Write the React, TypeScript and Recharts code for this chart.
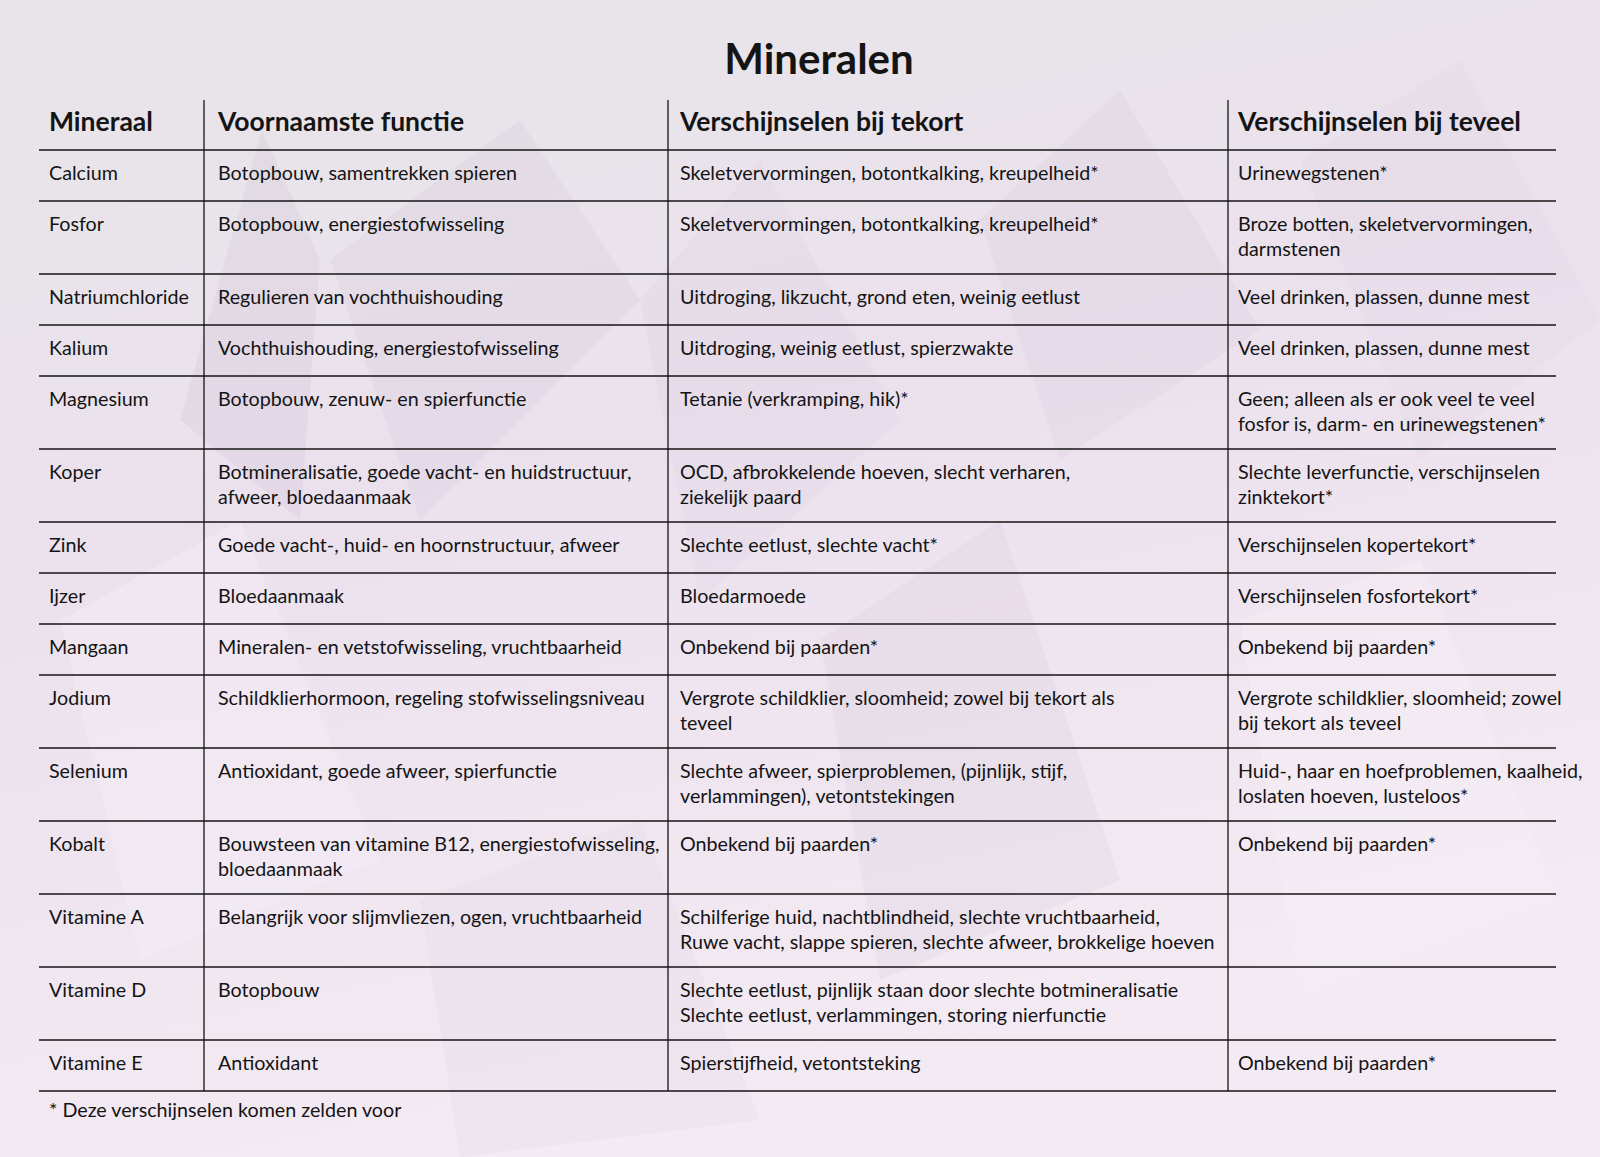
import React from 'react';
import { ScatterChart, Scatter, XAxis, YAxis, ReferenceLine } from 'recharts';

const TITLE = 'Mineralen';
const FOOTNOTE = '* Deze verschijnselen komen zelden voor';

const HEADERS = ['Mineraal', 'Voornaamste functie', 'Verschijnselen bij tekort', 'Verschijnselen bij teveel'];

const MINERALS = [
  'Calcium', 'Fosfor', 'Natriumchloride', 'Kalium', 'Magnesium', 'Koper', 'Zink', 'Ijzer',
  'Mangaan', 'Jodium', 'Selenium', 'Kobalt', 'Vitamine A', 'Vitamine D', 'Vitamine E',
];

const FUNCTIONS = [
  'Botopbouw, samentrekken spieren',
  'Botopbouw, energiestofwisseling',
  'Regulieren van vochthuishouding',
  'Vochthuishouding, energiestofwisseling',
  'Botopbouw, zenuw- en spierfunctie',
  'Botmineralisatie, goede vacht- en huidstructuur,\nafweer, bloedaanmaak',
  'Goede vacht-, huid- en hoornstructuur, afweer',
  'Bloedaanmaak',
  'Mineralen- en vetstofwisseling, vruchtbaarheid',
  'Schildklierhormoon, regeling stofwisselingsniveau',
  'Antioxidant, goede afweer, spierfunctie',
  'Bouwsteen van vitamine B12, energiestofwisseling,\nbloedaanmaak',
  'Belangrijk voor slijmvliezen, ogen, vruchtbaarheid',
  'Botopbouw',
  'Antioxidant',
];

const SHORTAGE = [
  'Skeletvervormingen, botontkalking, kreupelheid*',
  'Skeletvervormingen, botontkalking, kreupelheid*',
  'Uitdroging, likzucht, grond eten, weinig eetlust',
  'Uitdroging, weinig eetlust, spierzwakte',
  'Tetanie (verkramping, hik)*',
  'OCD, afbrokkelende hoeven, slecht verharen,\nziekelijk paard',
  'Slechte eetlust, slechte vacht*',
  'Bloedarmoede',
  'Onbekend bij paarden*',
  'Vergrote schildklier, sloomheid; zowel bij tekort als\nteveel',
  'Slechte afweer, spierproblemen, (pijnlijk, stijf,\nverlammingen), vetontstekingen',
  'Onbekend bij paarden*',
  'Schilferige huid, nachtblindheid, slechte vruchtbaarheid,\nRuwe vacht, slappe spieren, slechte afweer, brokkelige hoeven',
  'Slechte eetlust, pijnlijk staan door slechte botmineralisatie\nSlechte eetlust, verlammingen, storing nierfunctie',
  'Spierstijfheid, vetontsteking',
];

const EXCESS = [
  'Urinewegstenen*',
  'Broze botten, skeletvervormingen,\ndarmstenen',
  'Veel drinken, plassen, dunne mest',
  'Veel drinken, plassen, dunne mest',
  'Geen; alleen als er ook veel te veel\nfosfor is, darm- en urinewegstenen*',
  'Slechte leverfunctie, verschijnselen\nzinktekort*',
  'Verschijnselen kopertekort*',
  'Verschijnselen fosfortekort*',
  'Onbekend bij paarden*',
  'Vergrote schildklier, sloomheid; zowel\nbij tekort als teveel',
  'Huid-, haar en hoefproblemen, kaalheid,\nloslaten hoeven, lusteloos*',
  'Onbekend bij paarden*',
  '',
  '',
  'Onbekend bij paarden*',
];

// layout
const W = 1600;
const H = 1157;
const LEFT = 39;
const RIGHT = 1556;
const TOP = 100;
const TABLE_W = RIGHT - LEFT;
const COL_EDGES = [0, 165, 629, 1189];
const COL_PAD = [10, 14, 12, 10];
const HEADER_H = 50;
const ROW_BASE = 29;
const ROW_PER_LINE = 22;
const FIRST_LINE = 22.5;
const LINE_H = 25;
const FONT = 'Lato, "Open Sans", sans-serif';
const INK = '#141414';

const rowTops: number[] = [];
const rowBottoms: number[] = [];
let acc = HEADER_H;
MINERALS.forEach((_, i) => {
  const n = Math.max(
    ...[MINERALS[i], FUNCTIONS[i], SHORTAGE[i], EXCESS[i]].map((c) => c.split('\n').length)
  );
  rowTops.push(acc);
  acc += ROW_BASE + ROW_PER_LINE * n;
  rowBottoms.push(acc);
});
const TABLE_H = acc;

type CellDatum = { x: number; y: number; col: number; lines: string[]; head: boolean };

const cells: CellDatum[] = [];
HEADERS.forEach((h, c) => cells.push({ x: COL_EDGES[c], y: HEADER_H / 2, col: c, lines: [h], head: true }));
MINERALS.forEach((m, i) => {
  [m, FUNCTIONS[i], SHORTAGE[i], EXCESS[i]].forEach((t, c) => {
    if (t) cells.push({ x: COL_EDGES[c], y: rowTops[i], col: c, lines: t.split('\n'), head: false });
  });
});

const CellText = (props: any) => {
  const { cx, cy, payload } = props;
  const d = payload as CellDatum;
  const tx = cx + COL_PAD[d.col];
  if (d.head) {
    return (
      <text x={tx} y={cy - 4} dominantBaseline="central" fontFamily={FONT} fontWeight={700} fontSize={26.5} fill={INK}>
        {d.lines[0]}
      </text>
    );
  }
  return (
    <g>
      {d.lines.map((l, i) => (
        <text
          key={i}
          x={tx}
          y={cy + FIRST_LINE + i * LINE_H}
          dominantBaseline="central"
          fontFamily={FONT}
          fontSize={19.7}
          fill={INK}
        >
          {l}
        </text>
      ))}
    </g>
  );
};

const Backdrop = () => (
  <svg width={W} height={H} style={{ position: 'absolute', left: 0, top: 0 }}>
    <defs>
      <linearGradient id="bg" x1="0" y1="0" x2="0.3" y2="1">
        <stop offset="0" stopColor="#e7e5e8" />
        <stop offset="0.45" stopColor="#ebe1ed" />
        <stop offset="1" stopColor="#f3eaf3" />
      </linearGradient>
    </defs>
    <rect width={W} height={H} fill="url(#bg)" />
    <polygon points="180,420 262,130 320,260 300,520" fill="#b79fbc" opacity={0.12} />
    <polygon points="330,260 520,120 640,300 420,520" fill="#9d7fa3" opacity={0.07} />
    <polygon points="640,300 760,160 900,420 700,600" fill="#c4a9c8" opacity={0.08} />
    <polygon points="980,220 1120,90 1260,330 1060,460" fill="#a98cae" opacity={0.07} />
    <polygon points="1300,160 1460,60 1600,320 1420,460" fill="#c7b0cb" opacity={0.08} />
    <polygon points="60,620 240,520 380,860 140,960" fill="#f4ecf5" opacity={0.5} />
    <polygon points="820,640 1000,520 1120,880 880,980" fill="#8f6f96" opacity={0.06} />
    <polygon points="1240,620 1420,560 1560,900 1300,1000" fill="#f5eef6" opacity={0.5} />
    <polygon points="420,900 640,820 760,1120 460,1157" fill="#d8c3da" opacity={0.12} />
  </svg>
);

export default function App() {
  return (
    <div style={{ position: 'relative', width: W, height: H, overflow: 'hidden', fontFamily: FONT }}>
      <style>{'body{margin:0}'}</style>
      <Backdrop />
      <div style={{ position: 'absolute', left: 0, top: 0, width: W, height: H }}>
        <ScatterChart
          width={W}
          height={H}
          margin={{ top: TOP, left: LEFT, right: W - RIGHT, bottom: H - TOP - TABLE_H }}
        >
          <XAxis type="number" dataKey="x" domain={[0, TABLE_W]} hide />
          <YAxis type="number" dataKey="y" domain={[0, TABLE_H]} reversed hide />
          {COL_EDGES.slice(1).map((e) => (
            <ReferenceLine key={`v${e}`} x={e} stroke={INK} strokeWidth={1.3} />
          ))}
          <ReferenceLine y={HEADER_H} stroke={INK} strokeWidth={1.5} />
          {rowBottoms.map((b) => (
            <ReferenceLine key={`h${b}`} y={b} stroke={INK} strokeWidth={1.5} />
          ))}
          <Scatter data={cells} shape={CellText} isAnimationActive={false} />
        </ScatterChart>
      </div>
      <div
        style={{
          position: 'absolute',
          left: 0,
          width: W,
          top: 33,
          textAlign: 'center',
          paddingLeft: 38,
          boxSizing: 'border-box',
          fontSize: 42,
          fontWeight: 700,
          color: INK,
          lineHeight: '50px',
        }}
      >
        {TITLE}
      </div>
      <div
        style={{
          position: 'absolute',
          left: 49,
          top: TOP + TABLE_H + 7,
          fontSize: 19.7,
          color: INK,
          lineHeight: '24px',
        }}
      >
        {FOOTNOTE}
      </div>
    </div>
  );
}
